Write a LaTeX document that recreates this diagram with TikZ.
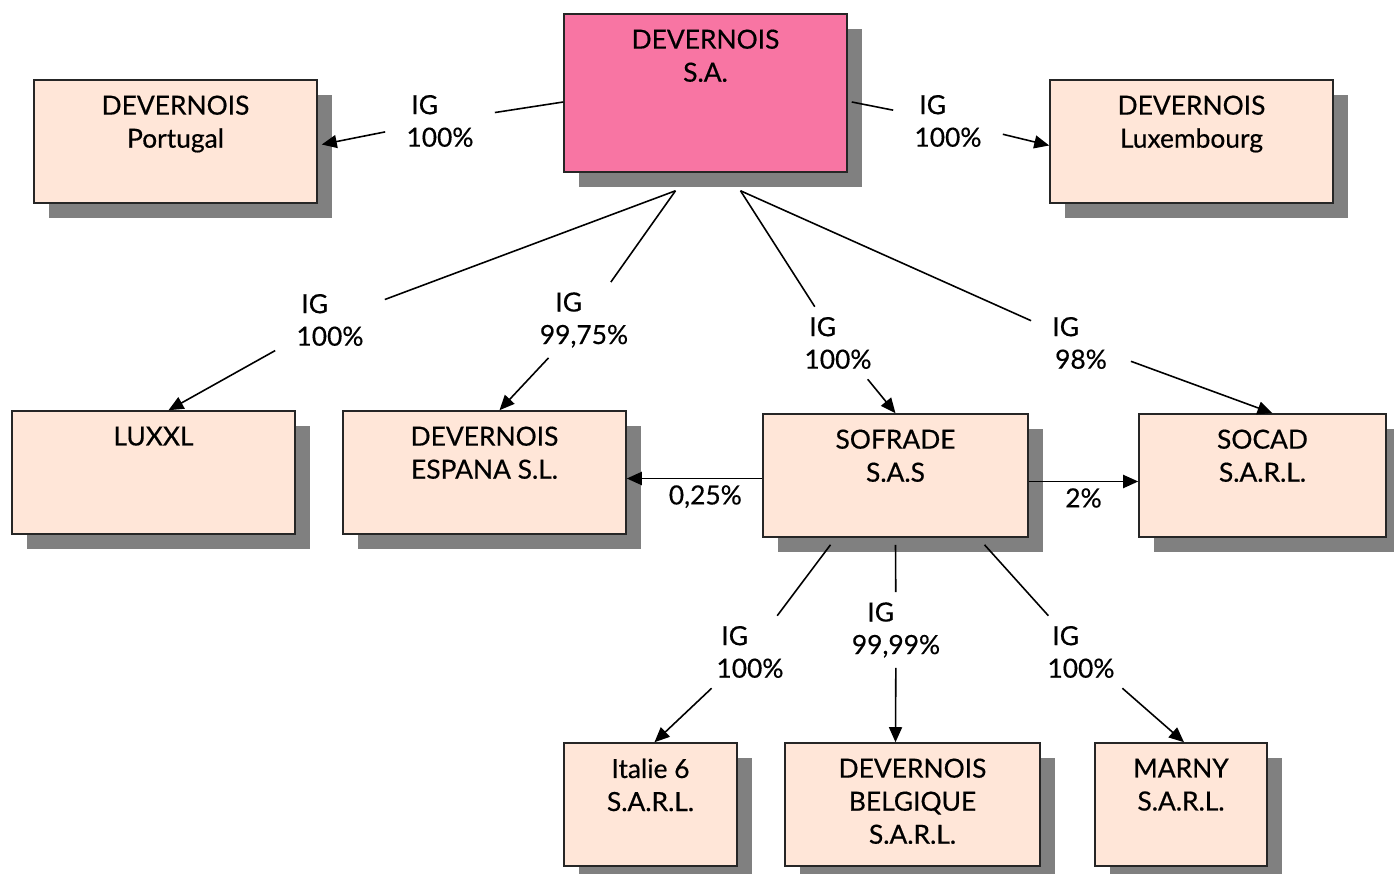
\documentclass[tikz,border=0pt]{standalone}
\usepackage{fontspec}
\setmainfont{Lato}[FakeBold=0.5]
\usetikzlibrary{arrows.meta,calc,shadows}
\definecolor{orgpink}{RGB}{248,117,163}
\definecolor{orgpeach}{RGB}{255,230,216}
\definecolor{orgshadow}{RGB}{128,128,128}

\begin{document}
\begin{tikzpicture}[x=0.02cm, y=-0.02cm,
    org box/.style={rectangle, draw=black!85, line width=0.9pt, fill=orgpeach, minimum width=5.66cm, minimum height=2.46cm,
                    drop shadow={shadow xshift=0.3cm, shadow yshift=-0.3cm, fill=orgshadow, opacity=1}},
    org name/.style={anchor=north, align=center, inner sep=0pt, yshift=-0.32cm, font=\fontsize{15}{18.8}\selectfont},
    org share/.style={align=center, inner xsep=0.42cm, inner ysep=0.2cm, font=\fontsize{15}{18.5}\selectfont},
    org line/.style={line width=0.9pt},
    org arrow/.style={-{Triangle[length=0.3cm, width=0.26cm]}, line width=0.9pt}]

    \useasboundingbox (0,0) rectangle (1394,874);

    % companies
    \node [org box, fill=orgpink, minimum height=3.16cm] (sa) at (705.5,93) {};
    \node [org box] (port) at (175.5,141.5) {};
    \node [org box] (luxb) at (1191.5,141.5) {};
    \node [org box] (luxxl) at (153.5,472.5) {};
    \node [org box] (esp) at (484.5,472.5) {};
    \node [org box, minimum width=5.3cm] (sof) at (895.5,475.5) {};
    \node [org box, minimum width=4.94cm] (socad) at (1262.5,475.5) {};
    \node [org box, minimum width=3.46cm] (ital) at (650.5,804.5) {};
    \node [org box, minimum width=5.1cm] (belg) at (912.5,804.5) {};
    \node [org box, minimum width=3.44cm] (marny) at (1181,804.5) {};

    \node [org name] (sa-n) at (sa.north) {DEVERNOIS\\S.A.};
    \node [org name] (port-n) at (port.north) {DEVERNOIS\\Portugal};
    \node [org name] (luxb-n) at (luxb.north) {DEVERNOIS\\Luxembourg};
    \node [org name] (luxxl-n) at (luxxl.north) {LUXXL};
    \node [org name] (esp-n) at (esp.north) {DEVERNOIS\\ESPANA S.L.};
    \node [org name] (sof-n) at (sof.north) {SOFRADE\\S.A.S};
    \node [org name] (socad-n) at (socad.north) {SOCAD\\S.A.R.L.};
    \node [org name] (ital-n) at (ital.north) {Italie 6\\S.A.R.L.};
    \node [org name] (belg-n) at (belg.north) {DEVERNOIS\\BELGIQUE\\S.A.R.L.};
    \node [org name] (marny-n) at (marny.north) {MARNY\\S.A.R.L.};

    % shares
    \node [org share] (sh-port) at (440,121) {IG\phantom{00}\\100\%};
    \node [org share] (sh-luxb) at (948,121) {IG\phantom{00}\\100\%};
    \node [org share] (sh-luxxl) at (330,320) {IG\phantom{00}\\100\%};
    \node [org share] (sh-esp) at (584,320) {IG\phantom{00}\\99,75\%};
    \node [org share] (sh-sof) at (838,343) {IG\phantom{00}\\100\%};
    \node [org share] (sh-socad) at (1081,343) {IG\phantom{00}\\98\%};
    \node [org share] (sh-ital) at (750,652) {IG\phantom{00}\\100\%};
    \node [org share] (sh-belg) at (896,630) {IG\phantom{00}\\99,99\%};
    \node [org share] (sh-marny) at (1081,652) {IG\phantom{00}\\100\%};

    \coordinate (sa-w) at ($(sa.west)+(0,9)$);
    \coordinate (sa-e) at ($(sa.east)+(4,9)$);
    \coordinate (sa-sl) at ($(sa.south)+(-30,18)$);
    \coordinate (sa-sr) at ($(sa.south)+(35,18)$);
    \coordinate (sof-sl) at ($(sof.south)+(-65,7)$);
    \coordinate (sof-s) at ($(sof.south)+(0,7)$);
    \coordinate (sof-sr) at ($(sof.south)+(89,7)$);

    % links
    \draw [org line] (sa-w) -- (sh-port);
    \draw [org arrow] (sh-port) -- ($(port.east)+(4,3)$);
    \draw [org line] (sa-e) -- (sh-luxb);
    \draw [org arrow] (sh-luxb) -- ($(luxb.west)+(0,4)$);
    \draw [org line] (sa-sl) -- (sh-luxxl);
    \draw [org arrow] (sh-luxxl) -- ($(luxxl.north)+(15,0)$);
    \draw [org line] (sa-sl) -- (sh-esp);
    \draw [org arrow] (sh-esp) -- ($(esp.north)+(15,0)$);
    \draw [org line] (sa-sr) -- (sh-sof);
    \draw [org arrow] (sh-sof) -- (sof.north);
    \draw [org line] (sa-sr) -- (sh-socad);
    \draw [org arrow] (sh-socad) -- ($(socad.north)+(10,0)$);

    \draw [org arrow, line width=1.1pt] ($(sof.west)+(0,3)$) -- node[pos=0.42, below, font=\fontsize{15}{18}\selectfont] (sh-sesp) {0,25\%} ($(sof.west -| esp.east)+(0,3)$);
    \draw [org arrow, line width=1.1pt] ($(sof.east)+(0,6)$) -- node[below, font=\fontsize{15}{18}\selectfont] (sh-ssoc) {2\%} ($(sof.east -| socad.west)+(0,6)$);

    \draw [org line] (sof-sl) -- (sh-ital);
    \draw [org arrow] (sh-ital) -- ($(ital.north)+(4,0)$);
    \draw [org line] (sof-s) -- (sh-belg);
    \draw [org arrow] (sh-belg) -- (sof-s |- belg.north);
    \draw [org line] (sof-sr) -- (sh-marny);
    \draw [org arrow] (sh-marny) -- ($(marny.north)+(3,0)$);

\end{tikzpicture}
\end{document}
